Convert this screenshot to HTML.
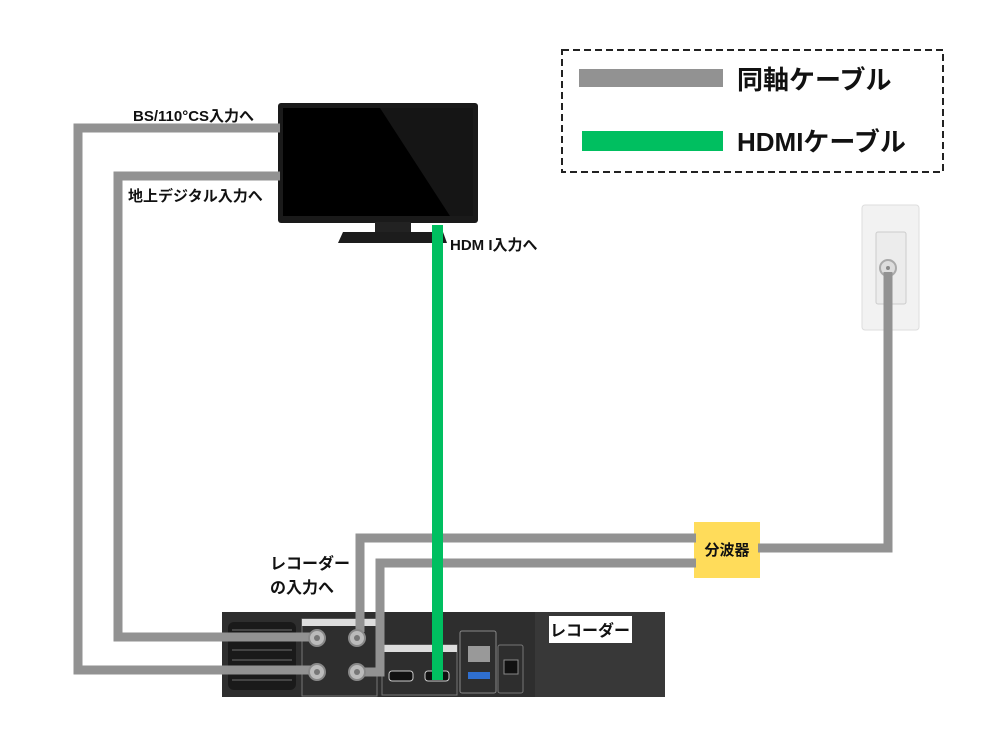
<!DOCTYPE html>
<html><head><meta charset="utf-8"><style>
html,body{margin:0;padding:0;background:#fff;}
svg{display:block;}
text{font-family:"Liberation Sans","Noto Sans CJK JP",sans-serif;font-weight:bold;fill:#111;}
</style></head><body>
<svg width="1000" height="750" viewBox="0 0 1000 750" xmlns="http://www.w3.org/2000/svg">
<!-- legend -->
<rect x="562" y="50" width="381" height="122" fill="none" stroke="#222" stroke-width="2" stroke-dasharray="7,4"/>
<rect x="579" y="69" width="144" height="18" fill="#929292"/>
<rect x="582" y="131" width="141" height="20" fill="#00bf60"/>
<text x="737" y="89" font-size="26">同軸ケーブル</text>
<text x="737" y="151" font-size="26">HDMIケーブル</text>

<!-- wall plate -->
<rect x="862" y="205" width="57" height="125" rx="3" fill="#f2f2f2" stroke="#ddd"/>
<rect x="876" y="232" width="30" height="72" rx="2" fill="#ececec" stroke="#ccc"/>
<circle cx="888" cy="268" r="8" fill="#ddd" stroke="#aaa" stroke-width="2"/>
<circle cx="888" cy="268" r="2" fill="#888"/>

<!-- TV -->
<rect x="278" y="103" width="200" height="120" rx="3" fill="#1a1a1a"/>
<rect x="283" y="108" width="190" height="108" fill="#000"/>
<polygon points="380,108 473,108 473,216 450,216" fill="#151515"/>
<rect x="375" y="222" width="36" height="10" fill="#222"/>
<polygon points="343,232 443,232 447,243 338,243" fill="#1c1c1c"/>

<!-- labels -->
<text x="133" y="121" font-size="15">BS/110°CS入力へ</text>
<text x="128" y="201" font-size="15">地上デジタル入力へ</text>
<text x="450" y="250" font-size="15">HDM I入力へ</text>
<text x="270" y="569" font-size="16">レコーダー</text>
<text x="270" y="593" font-size="16">の入力へ</text>

<!-- splitter -->
<rect x="694" y="522" width="66" height="56" fill="#ffdc5a"/>
<text x="727" y="555" font-size="15" text-anchor="middle">分波器</text>

<!-- recorder -->
<rect x="222" y="612" width="443" height="85" fill="#2e2e2e"/>
<rect x="535" y="612" width="130" height="85" fill="#383838"/>
<rect x="549" y="616" width="83" height="27" fill="#fff"/>
<text x="590" y="636" font-size="16" text-anchor="middle">レコーダー</text>
<rect x="228" y="622" width="68" height="68" rx="6" fill="#1a1a1a"/>
<g stroke="#444" stroke-width="2">
<line x1="232" y1="630" x2="292" y2="630"/><line x1="232" y1="640" x2="292" y2="640"/>
<line x1="232" y1="650" x2="292" y2="650"/><line x1="232" y1="660" x2="292" y2="660"/>
<line x1="232" y1="670" x2="292" y2="670"/><line x1="232" y1="680" x2="292" y2="680"/>
</g>
<rect x="302" y="619" width="75" height="77" fill="none" stroke="#777" stroke-width="1"/>
<rect x="302" y="619" width="75" height="7" fill="#ddd"/>
<rect x="382" y="645" width="75" height="50" fill="none" stroke="#777"/>
<rect x="382" y="645" width="75" height="7" fill="#ddd"/>
<rect x="460" y="631" width="36" height="62" rx="2" fill="none" stroke="#888"/>
<rect x="498" y="645" width="25" height="48" rx="2" fill="none" stroke="#777"/>
<rect x="468" y="646" width="22" height="16" fill="#999"/>
<rect x="468" y="672" width="22" height="7" fill="#2f6fd0"/>
<rect x="504" y="660" width="14" height="14" fill="#111" stroke="#888"/>
<rect x="389" y="671" width="24" height="10" rx="3" fill="#111" stroke="#ccc"/>
<rect x="425" y="671" width="24" height="10" rx="3" fill="#111" stroke="#ccc"/>

<!-- gray cables (over recorder) -->
<g fill="none" stroke="#929292" stroke-width="9">
<polyline points="280,128 78,128 78,670 312,670"/>
<polyline points="280,176 118,176 118,637 312,637"/>
<polyline points="360,632 360,538 696,538"/>
<polyline points="362,672 380,672 380,563 696,563"/>
<polyline points="758,548 888,548 888,272"/>
</g>
<g fill="#bbb" stroke="#888" stroke-width="2">
<circle cx="317" cy="638" r="8"/><circle cx="357" cy="638" r="8"/>
<circle cx="317" cy="672" r="8"/><circle cx="357" cy="672" r="8"/>
</g>
<g fill="#777"><circle cx="317" cy="638" r="3"/><circle cx="357" cy="638" r="3"/><circle cx="317" cy="672" r="3"/><circle cx="357" cy="672" r="3"/></g>

<!-- HDMI cable on top -->
<rect x="432" y="225" width="11" height="455" fill="#00bf60"/>
</svg>
</body></html>
